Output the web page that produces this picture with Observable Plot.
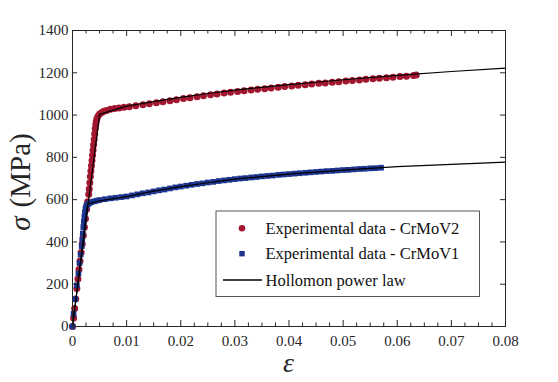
<!DOCTYPE html>
<html><head><meta charset="utf-8">
<script src="https://cdn.jsdelivr.net/npm/d3@7"></script>
<script src="https://cdn.jsdelivr.net/npm/@observablehq/plot@0.6"></script>
<style>
body{margin:0;background:#fff}
svg{font-family:"Liberation Serif","Times New Roman",serif}
</style>
</head><body><div id="chart"></div>
<script>
// ---- data ----
const seriesNames = ["Experimental data - CrMoV2", "Experimental data - CrMoV1", "Hollomon power law"];
const seriesColors = ["#A3162F", "#1A3490", "#000000"];

// CrMoV2 experimental (red circles)
const v2Strain = [0,0.0002,0.0004,0.0006,0.0008,0.0010,0.0012,0.0014,0.0016,0.0018,0.0020,0.0022,0.0024,0.0026,0.0028,0.0030,0.0031,0.0032,0.0033,0.0034,0.0035,0.0036,0.0037,0.0038,0.0039,0.0040,0.0041,0.0042,0.0043,0.0044,0.0045,0.0047,0.0050,0.0054,0.0058,0.0063,0.0070,0.0078,0.0086,0.0095,
0.0105,0.0117,0.0130,0.0142,0.0155,0.0167,0.0180,0.0192,0.0205,0.0217,0.0230,0.0242,0.0255,0.0267,0.0280,0.0292,0.0305,0.0317,0.0330,0.0342,0.0355,0.0367,0.0380,0.0392,0.0405,0.0417,0.0430,0.0442,0.0455,0.0467,0.0480,0.0492,0.0505,0.0517,0.0530,0.0542,0.0555,0.0567,0.0580,0.0592,0.0605,0.0617,0.0630,0.0635];
const v2Stress = [0,40,85,130,180,225,270,310,350,390,430,470,510,555,590,625,650,680,710,735,760,785,810,835,860,885,910,935,955,970,982,995,1005,1012,1018,1022,1027,1031,1034,1037,
1039,1044,1049,1053,1058,1063,1068,1073,1078,1082,1087,1091,1096,1100,1104,1108,1111,1115,1118,1122,1125,1128,1132,1135,1138,1141,1144,1147,1150,1152,1155,1158,1161,1164,1166,1169,1172,1174,1177,1179,1182,1184,1187,1189];

// CrMoV1 experimental (blue squares)
const v1Strain = [0,0.0002,0.0005,0.0008,0.0011,0.0013,0.0015,0.0017,0.0018,0.0019,0.0020,0.0021,0.0022,0.0023,0.0024,0.0025,0.0026,0.0028,0.0031,0.0035,0.0040,0.0045,0.0050,
0.006,0.007,0.008,0.009,0.010,0.011,0.012,0.013,0.014,0.015,0.016,0.017,0.018,0.019,0.020,0.021,0.022,0.023,0.024,0.025,0.026,0.027,0.028,0.029,0.030,0.031,0.032,0.033,0.034,0.035,0.036,0.037,0.038,0.039,0.040,0.041,0.042,0.043,0.044,0.045,0.046,0.047,0.048,0.049,0.050,0.051,0.052,0.053,0.054,0.055,0.056,0.057];
const v1Stress = [0,60,130,195,250,300,340,380,410,440,470,495,520,540,555,565,572,578,583,588,592,595,598,
602,606,609,612,615,620,625,630,634,639,644,648,653,658,662,666,670,674,677,681,684,688,691,694,697,700,702,705,707,710,712,714,717,719,721,723,725,727,729,731,733,735,736,738,740,741,743,745,746,748,749,751];

// Hollomon power law fits (black lines)
const h1Strain = [0,0.0028,0.005,0.01,0.015,0.02,0.025,0.03,0.04,0.05,0.06,0.07,0.08];
const h1Stress = [0,580,594,614,640,662,680,697,721,740,756,767,777];
const h2Strain = [0,0.005,0.01,0.015,0.02,0.025,0.03,0.04,0.05,0.06,0.07,0.08];
const h2Stress = [0,1003,1042,1064,1084,1102,1118,1144,1167,1188,1206,1222];

// axes
const xMajorTicks = [0,0.01,0.02,0.03,0.04,0.05,0.06,0.07,0.08];
const xTickLabels = ["0","0.01","0.02","0.03","0.04","0.05","0.06","0.07","0.08"];
const xMinorTicks = [0.0025,0.005,0.0075,0.0125,0.015,0.0175,0.0225,0.025,0.0275,0.0325,0.035,0.0375,0.0425,0.045,0.0475,0.0525,0.055,0.0575,0.0625,0.065,0.0675,0.0725,0.075,0.0775];
const yMajorTicks = [0,200,400,600,800,1000,1200,1400];
const yTickLabels = ["0","200","400","600","800","1000","1200","1400"];
const xLabel = "ε";
const yLabelSymbol = "σ";
const yLabelUnit = "(MPa)";

// ---- build ----
const W = 558, H = 382, mL = 72, mR = 53, mT = 30, mB = 56;
const pw = W - mL - mR, ph = H - mT - mB;
const v2 = v2Strain.map((e, i) => ({e, s: v2Stress[i]}));
const v1 = v1Strain.map((e, i) => ({e, s: v1Stress[i]}));
const h1 = h1Strain.map((e, i) => ({e, s: h1Stress[i]}));
const h2 = h2Strain.map((e, i) => ({e, s: h2Stress[i]}));
const axisColor = "#262626";

const chart = Plot.plot({
  width: W, height: H,
  marginLeft: mL, marginRight: mR, marginTop: mT, marginBottom: mB,
  style: {fontFamily: '"Liberation Serif", serif', fontSize: "15px", color: axisColor, background: "#fff"},
  x: {domain: [0, 0.08]},
  y: {domain: [0, 1400]},
  marks: [
    Plot.dot(v2, {x: "e", y: "s", r: 3.5, fill: seriesColors[0], stroke: "none", symbol: "circle"}),
    Plot.dot(v1, {x: "e", y: "s", r: 3.2, fill: seriesColors[1], stroke: "none", symbol: "square"}),
    Plot.line(h2, {x: "e", y: "s", stroke: seriesColors[2], strokeWidth: 1.2}),
    Plot.line(h1, {x: "e", y: "s", stroke: seriesColors[2], strokeWidth: 1.2}),
    // inward ticks
    Plot.ruleX(xMajorTicks, {x: d => d, insetTop: ph - 6, stroke: axisColor}),
    Plot.ruleX(xMajorTicks, {x: d => d, insetBottom: ph - 6, stroke: axisColor}),
    Plot.ruleX(xMinorTicks, {x: d => d, insetTop: ph - 3.5, stroke: axisColor}),
    Plot.ruleX(xMinorTicks, {x: d => d, insetBottom: ph - 3.5, stroke: axisColor}),
    Plot.ruleY(yMajorTicks, {y: d => d, insetRight: pw - 5, stroke: axisColor}),
    Plot.ruleY(yMajorTicks, {y: d => d, insetLeft: pw - 5, stroke: axisColor}),
    Plot.frame({stroke: axisColor, strokeWidth: 1}),
    Plot.axisX(xMajorTicks, {tickSize: 0, tickPadding: 9, label: null,
      tickFormat: d => xTickLabels[xMajorTicks.indexOf(d)], fontSize: 15}),
    Plot.axisY(yMajorTicks, {tickSize: 0, tickPadding: 4, label: null,
      tickFormat: d => yTickLabels[yMajorTicks.indexOf(d)], fontSize: 15})
  ]
});

const svg = d3.select(chart);
// axis titles
svg.append("text")
  .attr("transform", `translate(30,${mT + ph / 2 + 4}) rotate(-90)`)
  .attr("text-anchor", "middle")
  .attr("font-size", 29)
  .attr("fill", axisColor)
  .call(t => {
    t.append("tspan").attr("font-style", "italic").text(yLabelSymbol);
    t.append("tspan").attr("dx", 9).text(yLabelUnit);
  });
svg.append("text")
  .attr("x", mL + pw / 2)
  .attr("y", H - 10)
  .attr("text-anchor", "middle")
  .attr("font-size", 28)
  .attr("font-style", "italic")
  .attr("fill", axisColor)
  .text(xLabel);

// legend
const lg = svg.append("g").attr("transform", "translate(216,211)");
lg.append("rect").attr("width", 263.5).attr("height", 85.5)
  .attr("fill", "#fff").attr("stroke", "#555").attr("stroke-width", 1);
const rows = [17.3, 42.7, 69];
lg.append("circle").attr("cx", 26).attr("cy", rows[0]).attr("r", 3.3).attr("fill", seriesColors[0]);
lg.append("rect").attr("x", 23.3).attr("y", rows[1] - 2.7).attr("width", 5.4).attr("height", 5.4).attr("fill", seriesColors[1]);
lg.append("line").attr("x1", 7).attr("x2", 46).attr("y1", rows[2]).attr("y2", rows[2]).attr("stroke", "#000").attr("stroke-width", 1.3);
seriesNames.forEach((n, i) => {
  lg.append("text").attr("x", 49.5).attr("y", rows[i]).attr("dy", "0.35em")
    .attr("text-anchor", "start")
    .attr("font-size", 16.5).attr("fill", "#111").text(n);
});

document.getElementById("chart").appendChild(chart);
</script>
</body></html>
